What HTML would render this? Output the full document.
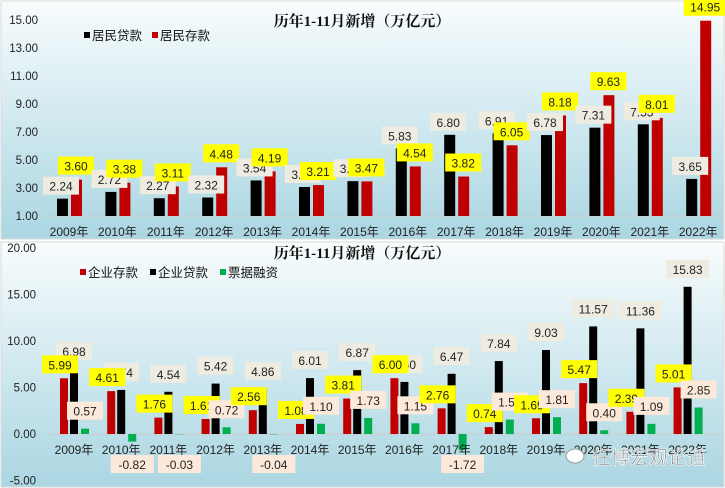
<!DOCTYPE html>
<html><head><meta charset="utf-8"><style>
body{margin:0;width:725px;height:488px;overflow:hidden;font-family:"Liberation Sans","Noto Sans CJK SC",sans-serif}
svg{display:block}
</style></head><body>
<svg id="c" width="725" height="488" xmlns="http://www.w3.org/2000/svg">
<defs>
<linearGradient id="bg" x1="0" y1="0" x2="0" y2="1"><stop offset="0" stop-color="#f8fcfd"/><stop offset="1" stop-color="#aad6e2"/></linearGradient>
</defs>
<rect x="1" y="1" width="723" height="238" fill="url(#bg)" stroke="#d9d9d9"/>
<rect x="1" y="242" width="723" height="245" fill="url(#bg)" stroke="#d9d9d9"/>
<g id="g"></g>
</svg>
<script>
const years=["2009年","2010年","2011年","2012年","2013年","2014年","2015年","2016年","2017年","2018年","2019年","2020年","2021年","2022年"];
const hhLoans=[2.24,2.72,2.27,2.32,3.54,3.07,3.49,5.83,6.80,6.91,6.78,7.31,7.55,3.65];
const hhDeposits=[3.60,3.38,3.11,4.48,4.19,3.21,3.47,4.54,3.82,6.05,8.18,9.63,8.01,14.95];
const topTicks=[1,3,5,7,9,11,13,15];
const corpDeposits=[5.99,4.61,1.76,1.61,2.56,1.08,3.81,6.00,2.76,0.74,1.69,5.47,2.39,5.01];
const corpLoans=[6.98,4.74,4.54,5.42,4.86,6.01,6.87,5.60,6.47,7.84,9.03,11.57,11.36,15.83];
const billFin=[0.57,-0.82,-0.03,0.72,-0.04,1.10,1.73,1.15,-1.72,1.55,1.81,0.40,1.09,2.85];
const botTicks=[-5,0,5,10,15,20];

const NS="http://www.w3.org/2000/svg";const G=document.getElementById('g');
function mk(t,a,txt){const e=document.createElementNS(NS,t);for(const k in a)e.setAttribute(k,a[k]);if(txt!==undefined)e.textContent=txt;G.appendChild(e);return e;}
const yT=v=>216-(v-1)*14, xT=i=>69+i*48.4;
const yB=v=>434-v*9.3, xB=i=>74+i*47.2;
function label(x,y,txt,fill,name){const w=txt.length*7+8;
 const r=mk('rect',{x:x-w/2,y:y-9,width:w,height:18,fill:fill});
 
 const t=mk('text',{x:x,y:y+5,'text-anchor':'middle','font-size':12,fill:'#222'},txt);
 }
// top axes
topTicks.forEach(v=>{const t=mk('text',{x:38,y:yT(v)+4,'text-anchor':'end','font-size':11.5,fill:'#222'},v.toFixed(2));
 });
let l=mk('line',{x1:45,x2:720,y1:yT(1),y2:yT(1),stroke:'#ccc'});
years.forEach((y,i)=>{const cx=xT(i);
 let b=mk('rect',{x:cx-12,y:yT(hhLoans[i]),width:11,height:yT(1)-yT(hhLoans[i]),fill:'#000'});
 
 b=mk('rect',{x:cx+2,y:yT(hhDeposits[i]),width:11,height:yT(1)-yT(hhDeposits[i]),fill:'#c00000'});
 
 const t=mk('text',{x:cx,y:236,'text-anchor':'middle','font-size':12,fill:'#222'},y);
 });
years.forEach((y,i)=>{const cx=xT(i);
 label(cx-8,yT(hhLoans[i])-13,hhLoans[i].toFixed(2),'#eeece1','label-household-loans');
 label(cx+7,yT(hhDeposits[i])-14,hhDeposits[i].toFixed(2),'#ffff00','label-household-deposits');});
let t=mk('text',{x:362,y:26,'text-anchor':'middle','font-size':15,'font-weight':'bold','font-family':'"Liberation Serif","Noto Serif CJK SC",serif',fill:'#111'},'历年1-11月新增（万亿元）');

[[84,'#000','居民贷款'],[152,'#c00000','居民存款']].forEach(a=>{let r=mk('rect',{x:a[0],y:32,width:6,height:6,fill:a[1]});
 let tt=mk('text',{x:a[0]+8,y:40,'font-size':12.5,fill:'#111'},a[2]);});
// bottom
botTicks.forEach(v=>{const t=mk('text',{x:36,y:yB(v)+4,'text-anchor':'end','font-size':11.5,fill:'#222'},v.toFixed(2));
 });
l=mk('line',{x1:48,x2:720,y1:yB(0),y2:yB(0),stroke:'#ccc'});
function vbar(x,v,fill,name){const y0=yB(0),y1=yB(v);const b=mk('rect',{x:x,y:Math.min(y0,y1),width:8,height:Math.abs(y1-y0),fill:fill});
 }
years.forEach((y,i)=>{const cx=xB(i);
 vbar(cx-14,corpDeposits[i],'#c00000','bar-corporate-deposits');
 vbar(cx-4,corpLoans[i],'#000','bar-corporate-loans');
 vbar(cx+7,billFin[i],'#00b050','bar-bill-financing');
 const t=mk('text',{x:cx,y:454,'text-anchor':'middle','font-size':12,fill:'#222'},y);
 });
years.forEach((y,i)=>{const cx=xB(i);
 label(cx,yB(corpLoans[i])-18,corpLoans[i].toFixed(2),'#eeece1','label-corporate-loans');
 label(cx-14,yB(corpDeposits[i])-14,corpDeposits[i].toFixed(2),'#ffff00','label-corporate-deposits');
 const v=billFin[i];label(cx+11,v<0?yB(0)+30:yB(v)-18,v.toFixed(2),'#fde9d9','label-bill-financing');});
t=mk('text',{x:362,y:258,'text-anchor':'middle','font-size':15,'font-weight':'bold','font-family':'"Liberation Serif","Noto Serif CJK SC",serif',fill:'#111'},'历年1-11月新增（万亿元）');

[[80,'#c00000','企业存款'],[150,'#000','企业贷款'],[220,'#00b050','票据融资']].forEach(a=>{let r=mk('rect',{x:a[0],y:269,width:6,height:6,fill:a[1]});
 let tt=mk('text',{x:a[0]+8,y:277,'font-size':12.5,fill:'#111'},a[2]);});
let c=mk('ellipse',{cx:575,cy:456,rx:9,ry:7,fill:'#fff',stroke:'#999'});
t=mk('text',{x:592,y:464,'font-size':19,fill:'#888',stroke:'#fff','stroke-width':0.6},'任博宏观论道');

</script>
</body></html>
